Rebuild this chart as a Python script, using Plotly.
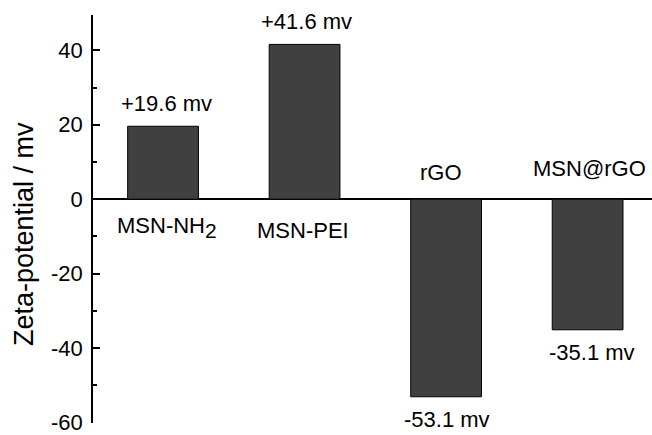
import plotly.graph_objects as go

categories = ["MSN-NH<sub><span style='font-size:21px'>2</span></sub>", "MSN-PEI", "rGO", "MSN@rGO"]
values = [19.6, 41.6, -53.1, -35.1]
value_labels = ["+19.6 mv", "+41.6 mv", "-53.1 mv", "-35.1 mv"]
y_ticks = [-60, -40, -20, 0, 20, 40]
y_tick_text = ["-60", "-40", "-20", "0", "20", "40"]
y_title = "Zeta-potential / mv"

FONT = "Liberation Sans, Arial, sans-serif"
xs = list(range(len(categories)))

fig = go.Figure()
fig.add_trace(go.Bar(
    x=xs, y=values, width=0.5,
    marker=dict(color="#404040", line=dict(color="#000000", width=1)),
    hoverinfo="skip",
))

val_shift_x = [3, 2, 1, 4]
cat_shift_x = [4, -2, -5, 2]
cat_shift_y = [-28, -31, 27, 31]
for i, (v, vl, c) in enumerate(zip(values, value_labels, categories)):
    sign = 1 if v > 0 else -1
    fig.add_annotation(x=i, y=v, text=vl, showarrow=False, xref="x", yref="y",
                       yanchor="middle", xanchor="center",
                       xshift=val_shift_x[i], yshift=sign * 23,
                       font=dict(family=FONT, size=22, color="#000"))
    fig.add_annotation(x=i, y=0, text=c, showarrow=False, xref="x", yref="y",
                       yanchor="middle", xanchor="center",
                       xshift=cat_shift_x[i], yshift=cat_shift_y[i],
                       font=dict(family=FONT, size=22, color="#000"))

fig.add_annotation(x=0, y=0.5, xref="paper", yref="paper", text=y_title,
                   textangle=-90, showarrow=False, xanchor="center", yanchor="middle",
                   xshift=-69, yshift=-15,
                   font=dict(family=FONT, size=27, color="#000"))

fig.update_layout(
    width=652, height=435,
    margin=dict(l=93, r=0, t=15, b=8),
    paper_bgcolor="white", plot_bgcolor="white",
    showlegend=False,
    font=dict(family=FONT, color="#000"),
    xaxis=dict(range=[-0.495, 3.455], showgrid=False, zeroline=False,
               showline=False, showticklabels=False, ticks=""),
    yaxis=dict(range=[-60.15, 49.5], tickvals=y_ticks, ticktext=y_tick_text,
               showgrid=False,
               zeroline=True, zerolinecolor="#000", zerolinewidth=1.5,
               showline=True, linecolor="#000", linewidth=1.5,
               ticks="inside", ticklen=7, tickwidth=1.5, tickcolor="#000",
               minor=dict(dtick=10, ticks="inside", ticklen=4, tickwidth=1.5,
                          tickcolor="#000", showgrid=False),
               tickfont=dict(family=FONT, size=22, color="#000"),
               ticklabeloverflow="allow",
               ticklabelstandoff=4),
)

fig.write_html("out.html", config={"displayModeBar": False},
               post_script="document.body.style.margin='0';document.body.style.padding='0';")
